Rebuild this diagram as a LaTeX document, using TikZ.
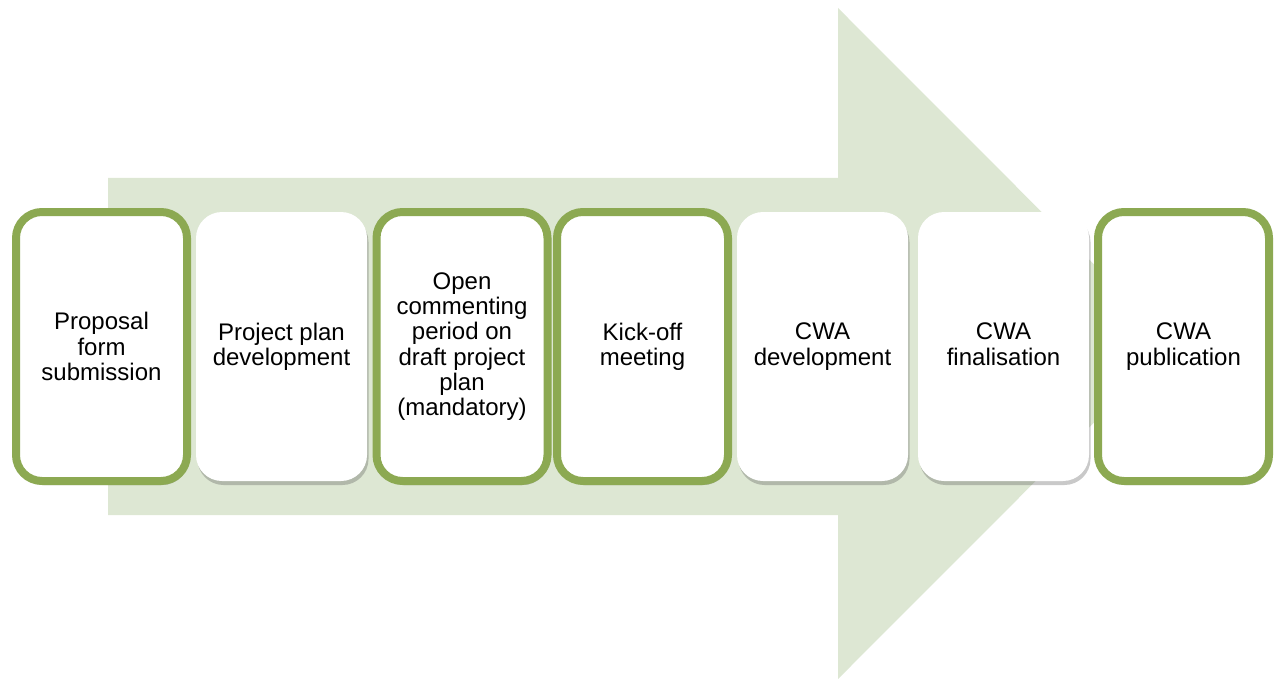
\documentclass[tikz,border=0pt]{standalone}
\usepackage{fontspec}
\setmainfont{Liberation Sans}
\usetikzlibrary{shadows}
\definecolor{arrowfill}{RGB}{221,231,211}
\definecolor{stepgreen}{RGB}{140,169,82}
\tikzset{
  card/.style={rectangle, rounded corners=26pt, minimum width=171pt, minimum height=269pt,
    fill=white, align=center, inner sep=0pt,
    font=\fontsize{24}{25.3}\selectfont,
    drop shadow={shadow xshift=1.5pt, shadow yshift=-4pt, opacity=0.3, fill=black!70}},
  greencard/.style={card, draw=stepgreen, line width=8pt},
  plaincard/.style={card, draw=none}
}
\begin{document}
\begin{tikzpicture}[x=1pt, y=-1pt]
\useasboundingbox (0,0) rectangle (1276,679);
% big background arrow
\fill[arrowfill] (108,178) -- (838,178) -- (838,8) -- (1173,343.5) -- (838,679) -- (838,515) -- (108,515) -- cycle;
% steps
\node[greencard] (s1) at (101.5,346.5) {Proposal\\form\\submission};
\node[plaincard] (s2) at (281.5,346.5) {Project plan\\development};
\node[greencard] (s3) at (462,346.5) {Open\\commenting\\period on\\draft project\\plan\\(mandatory)};
\node[greencard] (s4) at (642.5,346.5) {Kick-off\\meeting};
\node[plaincard] (s5) at (822.5,346.5) {CWA\\development};
\node[plaincard] (s6) at (1003.5,346.5) {CWA\\finalisation\vphantom{p}};
\node[greencard] (s7) at (1183.5,346.5) {CWA\\publication};
\end{tikzpicture}
\end{document}
